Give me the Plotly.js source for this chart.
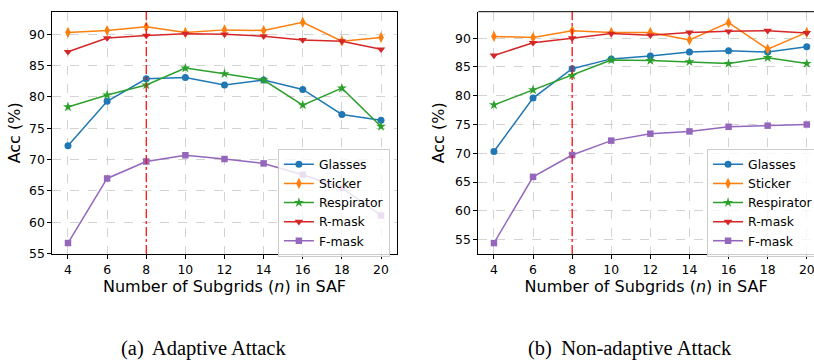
<!DOCTYPE html>
<html>
<head>
<meta charset="utf-8">
<script src="https://cdn.plot.ly/plotly-3.0.1.min.js"></script>
<style>html,body{margin:0;padding:0;background:#fff;}#chart{width:814px;height:361px;}</style>
</head>
<body>
<div id="chart"></div>
<script>
// ---- Data ----
const subgrids = [4, 6, 8, 10, 12, 14, 16, 18, 20];
const seriesNames = ["Glasses", "Sticker", "Respirator", "R-mask", "F-mask"];

// (a) Adaptive Attack
const adaptiveGlasses    = [72.2, 79.3, 82.9, 83.1, 81.9, 82.7, 81.2, 77.2, 76.3];
const adaptiveSticker    = [90.3, 90.6, 91.2, 90.3, 90.7, 90.6, 91.9, 88.9, 89.5];
const adaptiveRespirator = [78.4, 80.3, 81.9, 84.6, 83.7, 82.7, 78.7, 81.4, 75.3];
const adaptiveRmask      = [87.2, 89.4, 89.8, 90.1, 90.0, 89.7, 89.1, 88.9, 87.6];
const adaptiveFmask      = [56.7, 67.0, 69.7, 70.7, 70.1, 69.4, 67.6, 65.5, 61.1];

// (b) Non-adaptive Attack
const nonAdaptiveGlasses    = [70.3, 79.6, 84.7, 86.4, 86.9, 87.6, 87.8, 87.6, 88.5];
const nonAdaptiveSticker    = [90.3, 90.1, 91.3, 91.0, 91.0, 89.7, 92.7, 88.1, 91.0];
const nonAdaptiveRespirator = [78.4, 81.0, 83.5, 86.2, 86.1, 85.9, 85.6, 86.6, 85.6];
const nonAdaptiveRmask      = [87.0, 89.2, 90.0, 90.8, 90.5, 91.0, 91.2, 91.3, 90.9];
const nonAdaptiveFmask      = [54.4, 65.9, 69.7, 72.2, 73.4, 73.8, 74.6, 74.8, 75.0];

const chosenSubgrids = 8; // red dash-dot reference line
const yTicks = [55, 60, 65, 70, 75, 80, 85, 90];
const captions = ["(a)\u2009 Adaptive Attack", "(b)\u2009 Non-adaptive Attack"];

// ---- Styles ----
const colors = ["#1f77b4", "#ff7f0e", "#2ca02c", "#d62728", "#9467bd"];
const symbols = ["circle", "diamond-tall", "star", "triangle-down", "square"];
const sizes = [7, 8, 7.5, 7.5, 6.5];

function makeTraces(valuesList, xa, ya, legendId) {
  return valuesList.map((vals, i) => ({
    type: "scatter",
    mode: "lines+markers",
    x: subgrids,
    y: vals,
    name: seriesNames[i],
    xaxis: xa,
    yaxis: ya,
    legend: legendId,
    line: {color: colors[i], width: 1.5},
    marker: {color: colors[i], symbol: symbols[i], size: sizes[i], line: {width: 0}},
    cliponaxis: false
  }));
}

const traces = [].concat(
  makeTraces([adaptiveGlasses, adaptiveSticker, adaptiveRespirator, adaptiveRmask, adaptiveFmask], "x", "y", "legend"),
  makeTraces([nonAdaptiveGlasses, nonAdaptiveSticker, nonAdaptiveRespirator, nonAdaptiveRmask, nonAdaptiveFmask], "x2", "y2", "legend2")
);

const FONT = "DejaVu Sans, Arial, sans-serif";
function xAxis(domain, range, mirror, anchor) {
  return {
    domain: domain, range: range, anchor: anchor,
    tickmode: "array", tickvals: subgrids, ticktext: subgrids.map(String),
    ticks: "outside", ticklen: 4, tickwidth: 1, tickcolor: "#000",
    ticklabeloverflow: "allow",
    showline: true, linecolor: "#000", linewidth: 1, mirror: mirror,
    showgrid: true, gridcolor: "#c8c8c8", griddash: "dash", gridwidth: 0.8,
    zeroline: false,
    tickfont: {family: FONT, size: 12.4, color: "#000"},
    title: {text: "Number of Subgrids (<i>n</i>) in SAF", font: {family: FONT, size: 16, color: "#000"}, standoff: 0}
  };
}
function yAxis(domain, range, mirror, anchor, standoff) {
  return {
    domain: domain, range: range, anchor: anchor,
    tickmode: "array", tickvals: yTicks, ticktext: yTicks.map(String),
    ticks: "outside", ticklen: 4, tickwidth: 1, tickcolor: "#000",
    showline: true, linecolor: "#000", linewidth: 1, mirror: mirror,
    showgrid: true, gridcolor: "#c8c8c8", griddash: "dash", gridwidth: 0.8,
    zeroline: false,
    tickfont: {family: FONT, size: 12.4, color: "#000"},
    title: {text: "Acc (%)", font: {family: FONT, size: 16, color: "#000"}, standoff: standoff}
  };
}

const yDom = [0.2964, 0.9676];
const legendStyle = {
  bgcolor: "rgba(255,255,255,0.8)", bordercolor: "#cccccc", borderwidth: 1,
  font: {family: FONT, size: 12.4, color: "#000"}, tracegroupgap: 0, itemwidth: 30
};
const captionFont = {family: "Liberation Serif, Times New Roman, serif", size: 20.5, color: "#000"};

const layout = {
  width: 814, height: 361,
  margin: {l: 0, r: 0, t: 0, b: 0, autoexpand: false},
  paper_bgcolor: "#fff", plot_bgcolor: "#fff",
  font: {family: FONT, color: "#000"},
  xaxis: xAxis([0.0643, 0.4873], [3.2, 20.8], true, "y"),
  yaxis: yAxis(yDom, [54.95, 93.6], true, "x", 4),
  xaxis2: xAxis([0.5876, 1.0], [3.2, 20.37], false, "y2"),
  yaxis2: yAxis(yDom, [52.5, 94.6], false, "x2", 6),
  legend: Object.assign({x: 0.479, xanchor: "right", y: 0.588, yanchor: "top"}, legendStyle),
  legend2: Object.assign({x: 0.8686, xanchor: "left", y: 0.588, yanchor: "top"}, legendStyle),
  shapes: [
    {type: "line", xref: "x", yref: "y domain", x0: chosenSubgrids, x1: chosenSubgrids, y0: 0, y1: 1,
     line: {color: "#ff0000", width: 1.2, dash: "dashdot"}, layer: "above"},
    {type: "line", xref: "x2", yref: "y2 domain", x0: chosenSubgrids, x1: chosenSubgrids, y0: 0, y1: 1,
     line: {color: "#ff0000", width: 1.2, dash: "dashdot"}, layer: "above"},
    {type: "line", xref: "x2 domain", yref: "y2 domain", x0: 0, x1: 1, y0: 1, y1: 1,
     line: {color: "#000", width: 1}, layer: "above"}
  ],
  annotations: [
    {text: captions[0], xref: "paper", yref: "paper", x: 0.2506, y: 0.0, xanchor: "center", yanchor: "bottom",
     borderpad: 0, showarrow: false, font: captionFont},
    {text: captions[1], xref: "paper", yref: "paper", x: 0.774, y: 0.0, xanchor: "center", yanchor: "bottom",
     borderpad: 0, showarrow: false, font: captionFont}
  ]
};

Plotly.newPlot("chart", traces, layout, {staticPlot: true, displayModeBar: false});
</script>
</body>
</html>
